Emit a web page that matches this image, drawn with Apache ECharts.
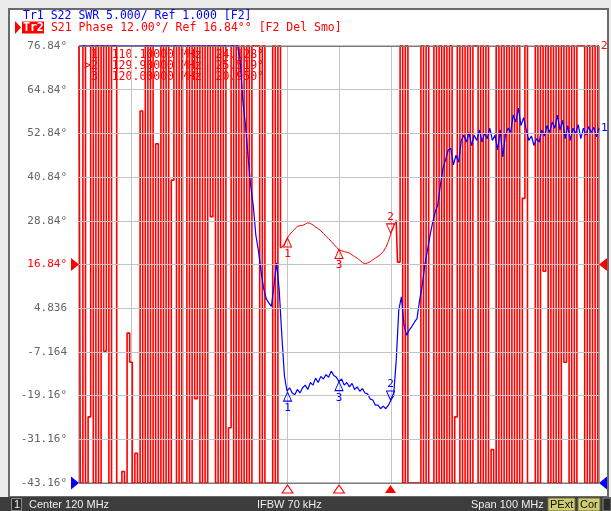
<!DOCTYPE html>
<html><head><meta charset="utf-8">
<script src="https://cdn.jsdelivr.net/npm/echarts@6/dist/echarts.min.js"></script>
<style>html,body{margin:0;padding:0;background:#ececec}#c{width:611px;height:511px}</style>
</head><body><div id="c"></div>
<script>
// Displayed (clamped) values: T = top of screen, B = bottom of screen
const T = 76.84, B = -43.16;
// Sweep: Center 120 MHz, Span 100 MHz, 201 points
const sweepStartMHz = 70, sweepStepMHz = 0.5, sweepPoints = 201;

// Tr2: S21 phase (deg), as displayed
const redPhase = [
  T,B,T,B,-25,T,B,T,B,T,
  -7,T,B,T,T,B,B,-40,B,-2,
  -10,B,-35,B,59,B,T,B,T,B,
  50,B,T,B,T,B,40,T,B,T,
  B,B,T,B,T,-20,T,B,T,B,
  T,30,T,B,T,B,T,B,-28,T,
  B,T,B,T,B,T,B,T,T,T,
  B,T,B,B,B,T,B,T,
  21.5,22.5,24.0,25.0,25.9,26.6,27.3,27.5,27.6,27.9,
  28.3,28.1,27.7,27.1,26.7,26.1,25.4,24.6,23.9,23.2,
  22.4,21.6,20.9,20.6,20.4,20.2,20.0,19.5,19.0,18.6,
  18.0,17.4,17.0,17.3,17.6,18.1,18.6,19.1,19.6,20.4,
  21.5,23.2,25.4,27.2,28.9,
  17.5,T,B,T,B,B,B,B,B,T,
  B,T,B,B,T,B,T,B,T,B,
  T,B,-25,T,B,T,B,T,B,T,
  T,B,T,B,T,B,-34,B,T,B,
  T,B,T,B,T,B,T,B,35,T,
  B,B,B,T,B,T,15,T,B,T,
  B,T,B,T,-10,T,B,T,B,T,
  T,T,B,T,B,T,B,T
];
// index range of the smooth passband part of Tr2 (rest is wrapped noise)
const passbandFirst = 78, passbandLast = 122;

// Tr1: S22 SWR, as displayed (51 = top of screen)
const blueSwr = [
  51,51,51,51,51,51,51,51,51,51,
  51,51,51,51,51,51,51,51,51,51,
  51,51,51,51,51,51,51,51,51,51,
  51,51,51,51,51,51,51,51,51,51,
  51,51,51,51,51,51,51,51,51,51,
  51,51,51,51,51,51,51,51,51,51,
  51,51,
  49.4,44.8,42.0,38.5,35.1,32.8,29.4,27.6,25.3,23.3,22.1,21.6,21.2,23.6,26.2,23.1,17.9,13.3,
  11.5,11.9,11.3,11.1,11.7,11.3,11.9,12.2,11.7,12.5,12.2,13.0,12.5,13.2,12.9,13.4,13.1,13.8,13.3,13.1,
  12.6,12.9,12.2,12.5,12.0,12.4,11.7,12.0,11.5,11.8,11.3,11.2,10.6,10.5,9.9,9.9,9.5,9.8,9.5,9.9,10.5,11.0,
  15.0,20.8,22.3,19.1,17.9,18.5,18.9,19.4,19.8,21.9,23.6,25.9,27.6,29.3,30.8,32.0,32.8,35.1,37.0,38.0,39.1,39.3,
  37.4,38.5,37.7,40.2,40.8,40.0,41.1,39.6,40.8,40.2,41.4,40.0,41.0,40.4,41.6,40.2,40.8,39.1,41.4,38.3,
  40.8,41.6,41.1,43.1,42.3,43.9,41.9,42.8,41.4,40.2,40.7,39.6,40.4,40.0,41.4,40.7,41.9,41.1,42.3,41.6,
  43.1,41.4,42.5,40.4,41.9,40.2,41.6,41.0,42.0,40.4,41.6,40.8,41.8,41.1,41.7,40.6,41.6
];

const yTickValues = [76.84, 64.84, 52.84, 40.84, 28.84, 16.84, 4.836, -7.164, -19.16, -31.16, -43.16];
const yTickLabels = ['76.84°','64.84°','52.84°','40.84°','28.84°','16.84°','4.836','-7.164','-19.16°','-31.16°','-43.16°'];

const markerNames = ['1', '2', '3'];
const markerFreqs = [110.1, 129.9, 120.0];
const redMarkerVals = [24.13, 25.52, 20.95];
const blueMarkerVals = [11.4, 10.5, 12.6];
const markerReadouts = [' 1  110.10000 MHz  24.128°', '>2  129.90000 MHz  25.519°', ' 3  120.00000 MHz  20.950°'];
const activeMarker = 1;
const redRef = 16.84, blueRef = 1.0, blueScaleMax = 51;

const freqs = [];
for (let i = 0; i < sweepPoints; i++) freqs.push(+(sweepStartMHz + i * sweepStepMHz).toFixed(2));

function redSlice(a, b) {
  const out = [];
  for (let i = a; i <= b; i++) out.push([freqs[i], redPhase[i]]);
  return out;
}

const RED = '#ff0000', BLUE = '#0000ff';
const mono = '"DejaVu Sans Mono", "Liberation Mono", monospace';
const UP = 'path://M5,0L10,10L0,10Z';
const DOWN = 'path://M0,0L10,0L5,10Z';
const RIGHT = 'path://M0,0L10,6.5L0,13Z';
const LEFT = 'path://M10,0L0,6.5L10,13Z';

function traceMarkers(vals, color) {
  return markerFreqs.map((f, k) => {
    const active = k === activeMarker;
    return {
      coord: [f, vals[k]],
      symbol: active ? DOWN : UP,
      symbolSize: [8, 9],
      symbolOffset: [0, active ? -4.5 : 4.5],
      itemStyle: { color: 'rgba(255,255,255,0)', borderColor: color, borderWidth: 1 },
      label: { show: true, formatter: markerNames[k], position: active ? 'top' : 'bottom', distance: 1,
               color: color, fontSize: 11, fontFamily: mono }
    };
  });
}

const noiseLine = { color: RED, width: 1.6 };
const passLine = { color: RED, width: 1 };

const chart = echarts.init(document.getElementById('c'), null, { renderer: 'canvas' });
chart.setOption({
  animation: false,
  backgroundColor: '#ececec',
  grid: { left: 79, right: 12, top: 46, bottom: 28, show: true, borderColor: '#7a7a7a', borderWidth: 1, z: 1 },
  xAxis: {
    type: 'value', min: 70, max: 170, interval: 10,
    axisLabel: { show: false }, axisTick: { show: false }, axisLine: { show: false },
    splitLine: { show: true, lineStyle: { color: '#c4c4c4', width: 1 } }
  },
  yAxis: [
    { type: 'value', min: B, max: T, show: false, splitLine: { show: false } },
    { type: 'value', min: blueRef, max: blueScaleMax, show: false, splitLine: { show: false } }
  ],
  graphic: [
    { type: 'rect', z: 0, shape: { x: 0, y: 0, width: 611, height: 511 }, style: { fill: '#ececec' } },
    { type: 'rect', z: 0, shape: { x: 9, y: 9, width: 599, height: 488 }, style: { fill: '#ffffff', stroke: '#6a6a6a', lineWidth: 2 } },
    { type: 'text', z: 0, x: 23, y: 16, style: { text: 'Tr1 S22 SWR 5.000/ Ref 1.000 [F2]', fill: BLUE, font: '11.5px ' + mono, verticalAlign: 'middle' } },
    { type: 'polygon', z: 0, shape: { points: [[15, 21], [21, 27.5], [15, 34]] }, style: { fill: RED } },
    { type: 'rect', z: 0, shape: { x: 22, y: 21.5, width: 22, height: 12 }, style: { fill: RED } },
    { type: 'text', z: 0, x: 23, y: 28, style: { text: 'Tr2', fill: '#ffffff', font: 'bold 11.5px ' + mono, verticalAlign: 'middle' } },
    { type: 'text', z: 0, x: 44, y: 28, style: { text: ' S21 Phase 12.00°/ Ref 16.84°° [F2 Del Smo]', fill: RED, font: '11.5px ' + mono, verticalAlign: 'middle' } },
    { type: 'text', z: 0, x: 84, y: 55, style: { text: markerReadouts[0], fill: RED, font: '11.5px ' + mono, verticalAlign: 'middle' } },
    { type: 'text', z: 0, x: 84, y: 66, style: { text: markerReadouts[1], fill: RED, font: '11.5px ' + mono, verticalAlign: 'middle' } },
    { type: 'text', z: 0, x: 84, y: 77, style: { text: markerReadouts[2], fill: RED, font: '11.5px ' + mono, verticalAlign: 'middle' } },
    { type: 'rect', z: 0, shape: { x: 0, y: 497, width: 611, height: 14 }, style: { fill: '#3d3d3d' } },
    { type: 'rect', z: 0, shape: { x: 11.5, y: 498.5, width: 10, height: 12 }, style: { fill: '#2b2b2b', stroke: '#8a8a8a', lineWidth: 1 } },
    { type: 'text', z: 0, x: 14, y: 505, style: { text: '1', fill: '#eeeeee', font: '11px "Liberation Sans", Arial', verticalAlign: 'middle' } },
    { type: 'text', z: 0, x: 29, y: 505, style: { text: 'Center 120 MHz', fill: '#eeeeee', font: '11px "Liberation Sans", Arial', verticalAlign: 'middle' } },
    { type: 'text', z: 0, x: 257, y: 505, style: { text: 'IFBW 70 kHz', fill: '#eeeeee', font: '11px "Liberation Sans", Arial', verticalAlign: 'middle' } },
    { type: 'text', z: 0, x: 471, y: 505, style: { text: 'Span 100 MHz', fill: '#eeeeee', font: '11px "Liberation Sans", Arial', verticalAlign: 'middle' } },
    { type: 'rect', z: 0, shape: { x: 548, y: 498, width: 27, height: 13 }, style: { fill: '#cfcf72', stroke: '#6d6d3a', lineWidth: 1 } },
    { type: 'text', z: 0, x: 550, y: 505, style: { text: 'PExt', fill: '#111111', font: '11px "Liberation Sans", Arial', verticalAlign: 'middle' } },
    { type: 'rect', z: 0, shape: { x: 578, y: 498, width: 22, height: 13 }, style: { fill: '#cfcf72', stroke: '#6d6d3a', lineWidth: 1 } },
    { type: 'text', z: 0, x: 580, y: 505, style: { text: 'Cor', fill: '#111111', font: '11px "Liberation Sans", Arial', verticalAlign: 'middle' } },
    { type: 'rect', z: 0, shape: { x: 603, y: 498, width: 8, height: 13 }, style: { fill: '#2b2b2b', stroke: '#8a8a8a', lineWidth: 1 } }
  ],
  series: [
    {
      type: 'line', name: 'grid', data: [], z: 1, silent: true, yAxisIndex: 0,
      markLine: {
        silent: true, symbol: 'none', animation: false,
        lineStyle: { color: '#c4c4c4', width: 1, type: 'solid' },
        label: { show: true, position: 'start', distance: 12, color: '#666666', fontSize: 11, fontFamily: mono },
        data: yTickValues.map((v, i) => ({
          yAxis: v,
          lineStyle: { color: (i === 0 || i === yTickValues.length - 1) ? '#7a7a7a' : '#c4c4c4', width: 1, type: 'solid' },
          label: { formatter: yTickLabels[i], color: v === redRef ? RED : '#666666' }
        }))
      }
    },
    {
      // Tr2, wrapped noise below the passband
      type: 'line', name: 'Tr2', yAxisIndex: 0, z: 3, clip: false, step: 'middle',
      data: redSlice(0, passbandFirst), symbol: 'none', lineStyle: noiseLine
    },
    {
      // Tr2, passband
      type: 'line', name: 'Tr2', yAxisIndex: 0, z: 3, clip: false,
      data: redSlice(passbandFirst, passbandLast), symbol: 'none', lineStyle: passLine,
      markPoint: {
        animation: false,
        data: traceMarkers(redMarkerVals, RED).concat([
          { coord: [70, redRef], symbol: RIGHT, symbolSize: [8, 13], symbolOffset: [-4, 0], itemStyle: { color: RED }, label: { show: false } },
          { coord: [170, redRef], symbol: LEFT, symbolSize: [8, 13], symbolOffset: [4, 0], itemStyle: { color: RED }, label: { show: false } }
        ]).concat(markerFreqs.map((f, k) => ({
          coord: [f, B], symbol: UP, symbolSize: [11, 8], symbolOffset: [0, 6],
          itemStyle: k === activeMarker ? { color: RED } : { color: 'rgba(255,255,255,0)', borderColor: RED, borderWidth: 1 },
          label: { show: false }
        })))
      }
    },
    {
      // Tr2, wrapped noise above the passband
      type: 'line', name: 'Tr2', yAxisIndex: 0, z: 3, clip: false, step: 'middle',
      data: redSlice(passbandLast, sweepPoints - 1), symbol: 'none', lineStyle: noiseLine,
      endLabel: { show: true, formatter: '2', color: RED, fontSize: 11, fontFamily: mono, distance: 2 }
    },
    {
      type: 'line', name: 'Tr1', yAxisIndex: 1, z: 4, clip: false,
      data: freqs.map((f, i) => [f, blueSwr[i]]),
      symbol: 'none', lineStyle: { color: BLUE, width: 1.2 },
      endLabel: { show: true, formatter: '1', color: BLUE, fontSize: 11, fontFamily: mono, distance: 2 },
      markPoint: {
        animation: false,
        data: traceMarkers(blueMarkerVals, BLUE).concat([
          { coord: [70, blueRef], symbol: RIGHT, symbolSize: [8, 13], symbolOffset: [-4, 0], itemStyle: { color: BLUE }, label: { show: false } },
          { coord: [170, blueRef], symbol: LEFT, symbolSize: [8, 13], symbolOffset: [4, 0], itemStyle: { color: BLUE }, label: { show: false } }
        ])
      }
    }
  ]
});
</script></body></html>
